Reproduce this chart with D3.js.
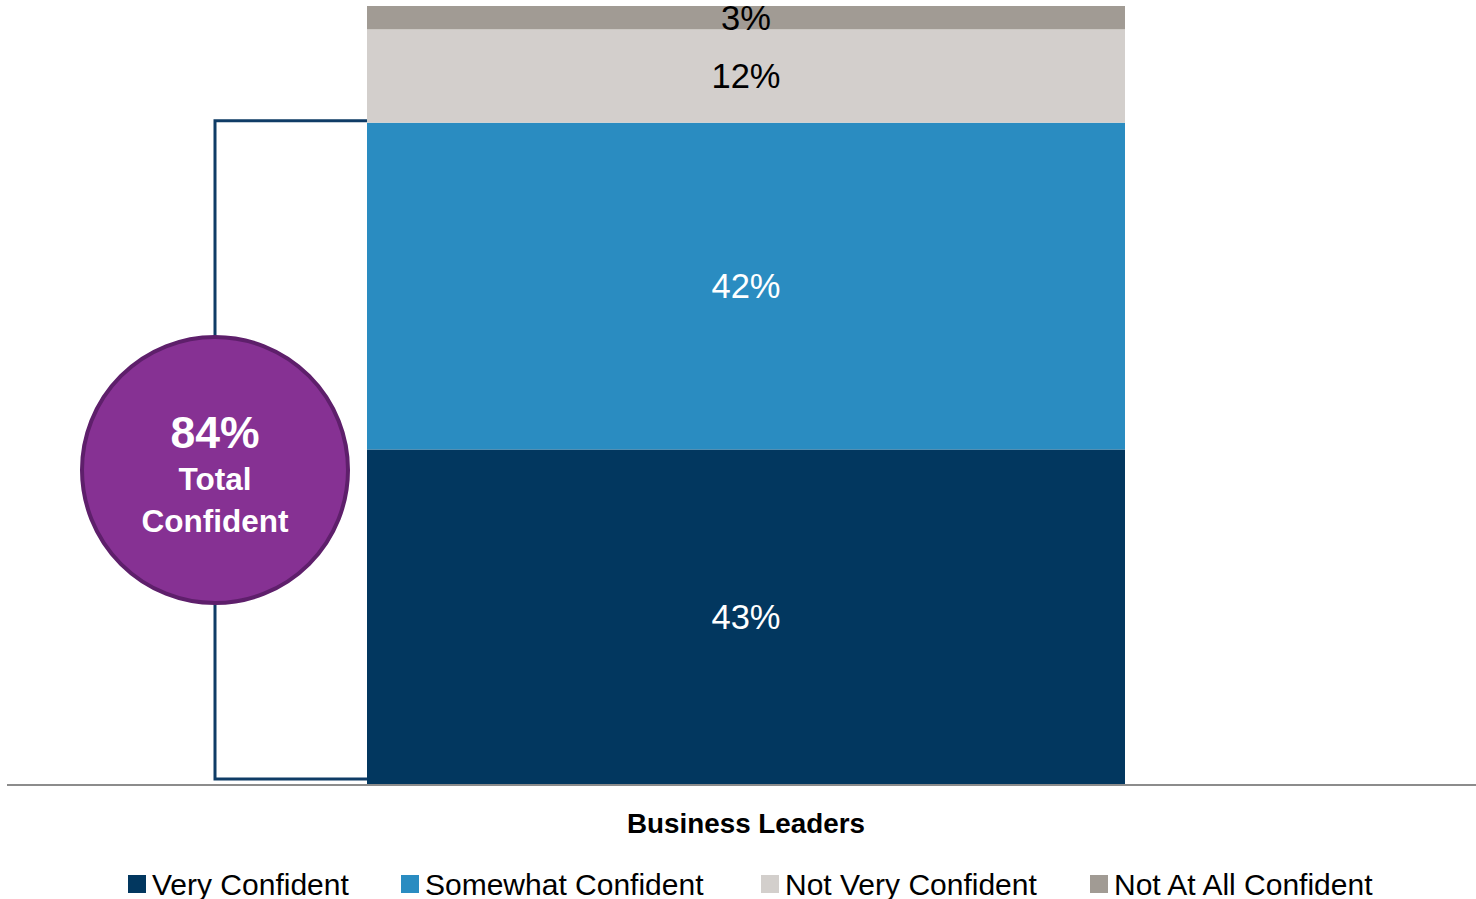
<!DOCTYPE html>
<html>
<head>
<meta charset="utf-8">
<script src="https://cdn.jsdelivr.net/npm/d3@7"></script>
<style>
  html, body { margin: 0; padding: 0; background: #ffffff; }
  svg { display: block; }
</style>
</head>
<body>
<svg id="chart" width="1476" height="899"></svg>
<script>
// Survey response shares (percent) for one group of respondents
const categories = ["Business Leaders"];
const seriesNames = ["Very Confident", "Somewhat Confident", "Not Very Confident", "Not At All Confident"];
const veryConfident = [43];
const somewhatConfident = [42];
const notVeryConfident = [12];
const notAtAllConfident = [3];
const totalConfident = [84];
const seriesColors = ["#02375f", "#2a8cc1", "#d3cfcc", "#a19b94"];
const labelColors = ["#ffffff", "#ffffff", "#000000", "#000000"];

const svg = d3.select("#chart");

// Build stacked rows from the series arrays
const rows = categories.map((c, i) => ({
  category: c,
  "Very Confident": veryConfident[i],
  "Somewhat Confident": somewhatConfident[i],
  "Not Very Confident": notVeryConfident[i],
  "Not At All Confident": notAtAllConfident[i]
}));
const stacked = d3.stack().keys(seriesNames)(rows);

const x = d3.scaleBand().domain(categories).range([367, 1125]).padding(0);
const y = d3.scaleLinear().domain([0, 100]).range([784, 6]);

// Bar segments
const layers = svg.append("g").selectAll("g")
  .data(stacked)
  .join("g")
  .attr("fill", (d, i) => seriesColors[i]);

layers.selectAll("rect")
  .data(d => d.map(p => ({ p, key: d.key })))
  .join("rect")
  .attr("x", d => x(d.p.data.category))
  .attr("width", x.bandwidth())
  .attr("y", d => y(d.p[1]))
  .attr("height", d => y(d.p[0]) - y(d.p[1]));

// Segment value labels
stacked.forEach((layer, i) => {
  svg.append("g").selectAll("text")
    .data(layer)
    .join("text")
    .attr("x", d => x(d.data.category) + x.bandwidth() / 2)
    .attr("y", d => (y(d[0]) + y(d[1])) / 2)
    .attr("text-anchor", "middle")
    .attr("dominant-baseline", "central")
    .attr("font-family", "'Liberation Sans', Arial, sans-serif")
    .attr("font-size", 34.5)
    .attr("fill", labelColors[i])
    .text(d => (d[1] - d[0]) + "%");
});

// Category axis
const xAxis = svg.append("g").attr("transform", `translate(0,${y(0) + 1})`);
xAxis.append("line")
  .attr("x1", 7).attr("x2", 1476)
  .attr("stroke", "#8c8c8c").attr("stroke-width", 2);
xAxis.selectAll("text.cat")
  .data(categories)
  .join("text")
  .attr("class", "cat")
  .attr("x", d => x(d) + x.bandwidth() / 2)
  .attr("y", 38)
  .attr("dominant-baseline", "central")
  .attr("text-anchor", "middle")
  .attr("font-family", "'Liberation Sans', Arial, sans-serif")
  .attr("font-weight", "bold")
  .attr("font-size", 27.8)
  .attr("fill", "#000000")
  .text(d => d);

// Bracket spanning the two confident segments
const bx = 215;
const bracketTop = y(veryConfident[0] + somewhatConfident[0]) - 2;
const bracketBottom = y(0) - 5;
svg.append("path")
  .attr("d", `M${x(categories[0])},${bracketTop} H${bx} V${bracketBottom} H${x(categories[0])}`)
  .attr("fill", "none")
  .attr("stroke", "#0f3c66")
  .attr("stroke-width", 3);

// Total-confident callout
const cy = 470;
svg.append("circle")
  .attr("cx", bx).attr("cy", cy).attr("r", 133)
  .attr("fill", "#863193")
  .attr("stroke", "#5e1f6b")
  .attr("stroke-width", 4);
const callout = svg.append("g")
  .attr("font-family", "'Liberation Sans', Arial, sans-serif")
  .attr("font-weight", "bold")
  .attr("fill", "#ffffff")
  .attr("text-anchor", "middle");
callout.append("text")
  .attr("x", bx).attr("y", 432)
  .attr("dominant-baseline", "central")
  .attr("font-size", 44.5)
  .text(totalConfident[0] + "%");
callout.append("text")
  .attr("x", bx).attr("y", 479)
  .attr("dominant-baseline", "central")
  .attr("font-size", 31.5)
  .text("Total");
callout.append("text")
  .attr("x", bx).attr("y", 521)
  .attr("dominant-baseline", "central")
  .attr("font-size", 31.5)
  .text("Confident");

// Legend
const legendX = [128, 401, 761, 1090];
const legend = svg.append("g").selectAll("g")
  .data(seriesNames)
  .join("g")
  .attr("transform", (d, i) => `translate(${legendX[i]},875)`);
legend.append("rect")
  .attr("width", 18).attr("height", 18)
  .attr("fill", (d, i) => seriesColors[i]);
legend.append("text")
  .attr("x", 24).attr("y", 9)
  .attr("dominant-baseline", "central")
  .attr("font-family", "'Liberation Sans', Arial, sans-serif")
  .attr("font-size", 30)
  .attr("fill", "#000000")
  .text(d => d);
</script>
</body>
</html>
